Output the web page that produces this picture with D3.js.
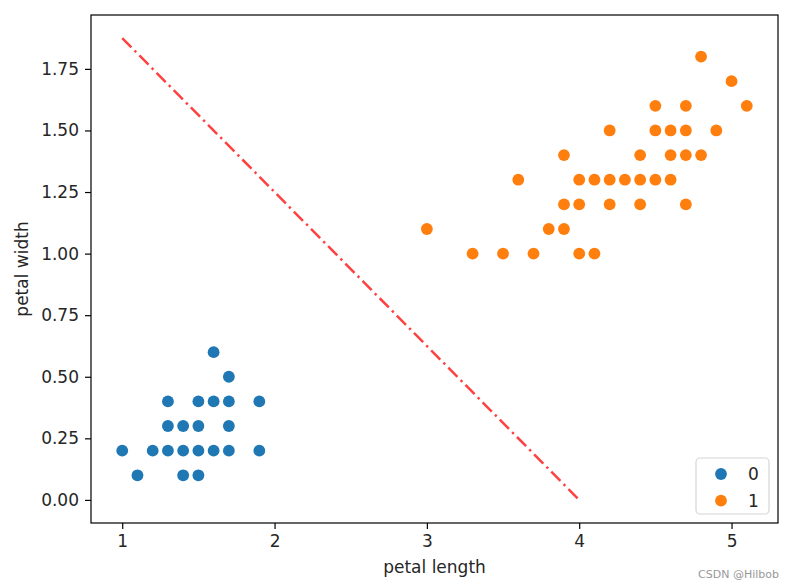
<!DOCTYPE html>
<html><head><meta charset="utf-8">
<script src="https://cdn.jsdelivr.net/npm/d3@7"></script>
<style>
html,body{margin:0;padding:0;background:#fff;}
text{font-family:"DejaVu Sans",sans-serif;fill:#262626;}
</style></head>
<body><svg id="chart" width="795" height="588"></svg>
<script>
// Class 0 (setosa)
const class0X = [1.0,1.2,1.3,1.4,1.5,1.6,1.7,1.9, 1.1,1.4,1.5, 1.3,1.4,1.5,1.7, 1.3,1.5,1.6,1.7,1.9, 1.7, 1.6];
const class0Y = [0.2,0.2,0.2,0.2,0.2,0.2,0.2,0.2, 0.1,0.1,0.1, 0.3,0.3,0.3,0.3, 0.4,0.4,0.4,0.4,0.4, 0.5, 0.6];
// Class 1 (versicolor)
const class1X = [4.8, 5.0, 4.5,4.7,5.1, 4.2,4.5,4.6,4.7,4.9, 3.9,4.4,4.6,4.7,4.8, 3.6,4.0,4.1,4.2,4.3,4.4,4.5,4.6, 3.9,4.0,4.2,4.4,4.7, 3.0,3.8,3.9, 3.3,3.5,3.7,4.0,4.1];
const class1Y = [1.8, 1.7, 1.6,1.6,1.6, 1.5,1.5,1.5,1.5,1.5, 1.4,1.4,1.4,1.4,1.4, 1.3,1.3,1.3,1.3,1.3,1.3,1.3,1.3, 1.2,1.2,1.2,1.2,1.2, 1.1,1.1,1.1, 1.0,1.0,1.0,1.0,1.0];
// Decision boundary
const lineX = [1, 4];
const lineY = [1.875, 0];
const xTicks = [1,2,3,4,5];
const yTicks = [0,0.25,0.5,0.75,1.0,1.25,1.5,1.75];
const legendLabels = ["0","1"];
const colors = ["#1f77b4","#ff7f0e"];

const svg = d3.select("#chart");
const L = 91, R = 778, T = 15, B = 523;

const allX = class0X.concat(class1X, lineX);
const allY = class0Y.concat(class1Y, lineY);
const [x0, x1] = d3.extent(allX), [y0, y1] = d3.extent(allY);
const mx = (x1 - x0) * 0.05, my = (y1 - y0) * 0.05;
const x = d3.scaleLinear().domain([x0 - mx, x1 + mx]).range([L, R]);
const y = d3.scaleLinear().domain([y0 - my, y1 + my]).range([B, T]);

// points
const r = 5.9;
[[class0X, class0Y], [class1X, class1Y]].forEach(([xs, ys], k) => {
  svg.append("g").selectAll("circle").data(xs.map((v, i) => [v, ys[i]])).join("circle")
    .attr("cx", d => x(d[0])).attr("cy", d => y(d[1])).attr("r", r)
    .attr("fill", colors[k]);
});

// line
svg.append("path").datum(lineX.map((v, i) => [v, lineY[i]]))
  .attr("d", d3.line().x(d => x(d[0])).y(d => y(d[1])))
  .attr("fill", "none").attr("stroke", "#ff0000").attr("stroke-opacity", 0.75)
  .attr("stroke-width", 2.5).attr("stroke-dasharray", "13,4.5,2.4,4.5");

// axes
const fs = 17;
const xa = svg.append("g").attr("transform", `translate(0,${B})`)
  .call(d3.axisBottom(x).tickValues(xTicks).tickFormat(d3.format("d")).tickSize(6).tickPadding(6));
const ya = svg.append("g").attr("transform", `translate(${L},0)`)
  .call(d3.axisLeft(y).tickValues(yTicks).tickFormat(d3.format(".2f")).tickSize(6).tickPadding(6));
[xa, ya].forEach(a => {
  a.select(".domain").remove();
  a.selectAll("line").attr("stroke", "#000").attr("stroke-width", 1.2);
  a.selectAll("text").attr("font-family", "DejaVu Sans").attr("font-size", fs).attr("fill", "#262626");
});

// frame
svg.append("rect").attr("x", L).attr("y", T).attr("width", R - L).attr("height", B - T)
  .attr("fill", "none").attr("stroke", "#000").attr("stroke-width", 1.2);

// labels
svg.append("text").attr("x", (L + R) / 2).attr("y", 573).attr("text-anchor", "middle")
  .attr("font-size", fs).text("petal length");
svg.append("text").attr("transform", `translate(28,${(T + B) / 2}) rotate(-90)`)
  .attr("text-anchor", "middle").attr("font-size", fs).text("petal width");

// legend
const lg = svg.append("g");
lg.append("rect").attr("x", 696).attr("y", 458).attr("width", 73).attr("height", 56)
  .attr("rx", 4).attr("fill", "#fff").attr("fill-opacity", 0.8)
  .attr("stroke", "#d6d6d6").attr("stroke-width", 1.2);
legendLabels.forEach((lab, i) => {
  const cy = 474 + i * 26.7;
  lg.append("circle").attr("cx", 721).attr("cy", cy).attr("r", r).attr("fill", colors[i]);
  lg.append("text").attr("x", 748).attr("y", cy + 6).attr("font-size", fs).text(lab);
});

// watermark
svg.append("text").attr("x", 779).attr("y", 578).attr("text-anchor", "end")
  .attr("font-size", 11).style("fill", "#999").text("CSDN @Hilbob");
</script></body></html>
